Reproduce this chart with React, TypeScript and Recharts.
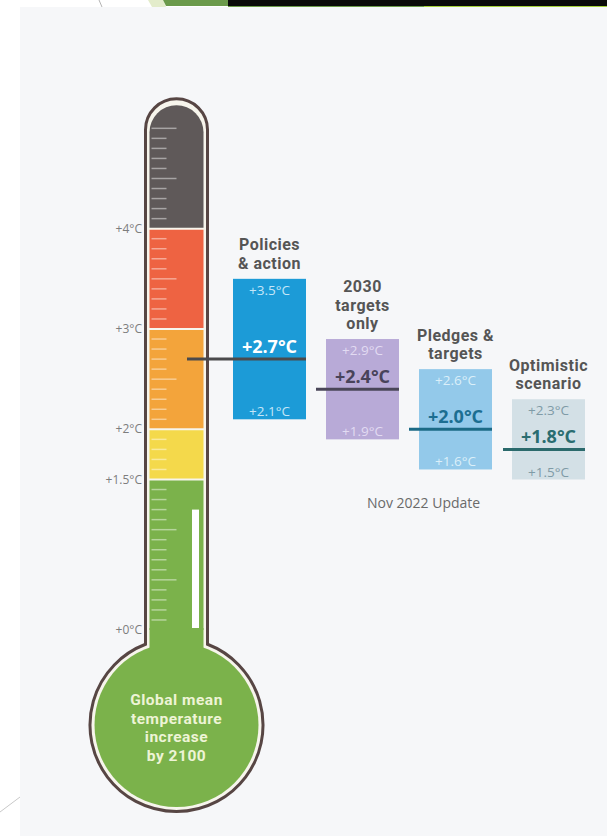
import React from "react";
import {
  ComposedChart,
  Bar,
  Scatter,
  XAxis,
  YAxis,
  ReferenceArea,
} from "recharts";

// scenario columns (first slot holds the thermometer)
const categories = [
  "thermometer",
  "Policies & action",
  "2030 targets only",
  "Pledges & targets",
  "Optimistic scenario",
];
const titleLines = [
  [],
  ["Policies", "& action"],
  ["2030", "targets", "only"],
  ["Pledges &", "targets"],
  ["Optimistic", "scenario"],
];
const lowValues = [null, 2.1, 1.9, 1.6, 1.5];
const highValues = [null, 3.5, 2.9, 2.6, 2.3];
const midValues = [null, 2.7, 2.4, 2.0, 1.8];

// thermometer colour bands (°C)
const bandEdges = [0, 1.5, 2, 3, 4, 5.23];
const bandColors = ["#7bb24b", "#f4d94b", "#f3a43b", "#ee6342", "#5f5959"];
const yTicks = [0, 1.5, 2, 3, 4];

const bulbText = ["Global mean", "temperature", "increase", "by 2100"];
const caption = "Nov 2022 Update";

const boxStyles = [
  null,
  { fill: "#1c9bd7", edge: "#c4e6f8", mid: "#ffffff", line: "#4b4a4c", reach: 46 },
  { fill: "#b8aad7", edge: "#e2dbf2", mid: "#48435a", line: "#4a4658", reach: 10 },
  { fill: "#93c9ea", edge: "#dbeff9", mid: "#1c6e91", line: "#1b6a86", reach: 10 },
  { fill: "#d3e0e6", edge: "#7f9ba6", mid: "#2a6d70", line: "#2b6a6c", reach: 9 },
];

const data = categories.map((name, i) => ({
  name,
  range: lowValues[i] == null ? null : [lowValues[i], highValues[i]],
  low: lowValues[i],
  high: highValues[i],
  mid: midValues[i],
}));

const FONT = "'Open Sans', 'DejaVu Sans', sans-serif";
const TIGHT = "Roboto, 'Open Sans', sans-serif"; // compact line box for stacked titles
const fmt = (v: number) => `+${v.toFixed(1)}°C`;

const TUBE_HALF = 27; // inner fill half width
const OUTLINE_HALF = 31;
const BULB_R = 86.5;
const BULB_DROP = 95; // bulb centre below the 0°C line

const ThermoOutline = (props: any) => {
  const { x, y, width, height } = props;
  const cx = x + width / 2;
  const zero = y + height;
  const by = zero + BULB_DROP;
  const top = y - 6.5;
  const neck = by - Math.sqrt(BULB_R * BULB_R - OUTLINE_HALF * OUTLINE_HALF);
  const d = `M ${cx - OUTLINE_HALF} ${neck} L ${cx - OUTLINE_HALF} ${top + OUTLINE_HALF}
    A ${OUTLINE_HALF} ${OUTLINE_HALF} 0 0 1 ${cx + OUTLINE_HALF} ${top + OUTLINE_HALF}
    L ${cx + OUTLINE_HALF} ${neck}
    A ${BULB_R} ${BULB_R} 0 1 1 ${cx - OUTLINE_HALF} ${neck} Z`;
  return (
    <g>
      <path d={d} fill="#f7f5ec" stroke="#574644" strokeWidth={3} />
      <circle cx={cx} cy={by} r={BULB_R - 4.5} fill={bandColors[0]} />
      <rect x={cx - TUBE_HALF} y={zero - 2} width={TUBE_HALF * 2} height={22} fill={bandColors[0]} />
      {bulbText.map((t, i) => (
        <text
          key={t}
          x={cx}
          y={by - 20 + i * 18.5}
          textAnchor="middle"
          fontFamily={TIGHT}
          fontSize={15.5}
          fontWeight={700}
          letterSpacing={0.5}
          fill="#eef4d6"
        >
          {t}
        </text>
      ))}
    </g>
  );
};

const makeSegment = (i: number) => (props: any) => {
  const { x, y, width, height } = props;
  const cx = x + width / 2;
  const lo = bandEdges[i];
  const hi = bandEdges[i + 1];
  const pxPer = height / (hi - lo);
  const left = cx - TUBE_HALF;
  const right = cx + TUBE_HALF;
  const top = y + (i === bandEdges.length - 2 ? 0 : 1);
  const bottom = y + height - (i === 0 ? 0 : 1);
  const d =
    i === bandEdges.length - 2
      ? `M ${left} ${bottom} L ${left} ${top + TUBE_HALF} A ${TUBE_HALF} ${TUBE_HALF} 0 0 1 ${right} ${top + TUBE_HALF} L ${right} ${bottom} Z`
      : `M ${left} ${bottom} L ${left} ${top} L ${right} ${top} L ${right} ${bottom} Z`;
  const grads: number[] = [];
  for (let k = Math.round(lo * 10) + 1; k < Math.round(hi * 10); k++) {
    if (k <= 50) grads.push(k);
  }
  return (
    <g>
      <path d={d} fill={bandColors[i]} />
      {grads.map((k) => {
        const gy = y + height - (k / 10 - lo) * pxPer;
        return (
          <line
            key={k}
            x1={left + 2}
            x2={left + (k % 5 === 0 ? 27 : 17)}
            y1={gy}
            y2={gy}
            stroke="#ffffff"
            strokeOpacity={0.45}
            strokeWidth={1.5}
          />
        );
      })}
      {i === 0 && (
        <rect
          x={cx + 15.5}
          y={y + height - 1.2 * pxPer}
          width={7}
          height={1.2 * pxPer - 2}
          fill="#ffffff"
        />
      )}
    </g>
  );
};

const BoxShape = (props: any) => {
  const { x, y, width, height, payload } = props;
  const idx = categories.indexOf(payload?.name);
  if (idx < 1 || !height) return null;
  const s = boxStyles[idx]!;
  const cx = x + width / 2;
  const lines = titleLines[idx];
  return (
    <g fontFamily={FONT}>
      {lines.map((t, i) => (
        <text
          key={t}
          x={cx}
          y={y - 10 - (lines.length - 1 - i) * 18.5}
          textAnchor="middle"
          fontFamily={TIGHT}
          fontSize={16}
          fontWeight={700}
          letterSpacing={0.5}
          fill="#555555"
        >
          {t}
        </text>
      ))}
      <rect x={x} y={y} width={width} height={height} fill={s.fill} />
      <text x={cx} y={y + 16} textAnchor="middle" fontSize={13.5} fill={s.edge}>
        {fmt(payload.high)}
      </text>
      <text x={cx} y={y + height - 3} textAnchor="middle" fontSize={13.5} fill={s.edge}>
        {fmt(payload.low)}
      </text>
    </g>
  );
};

const MidShape = (props: any) => {
  const { cx, cy, payload } = props;
  const idx = categories.indexOf(payload?.name);
  if (idx < 1 || cy == null || isNaN(cy)) return null;
  const s = boxStyles[idx]!;
  const half = 36.5;
  return (
    <g fontFamily={FONT}>
      <line x1={cx - half - s.reach} x2={cx + half} y1={cy} y2={cy} stroke={s.line} strokeWidth={3} />
      <text x={cx} y={cy - 6} textAnchor="middle" fontSize={18} fontWeight={700} fill={s.mid}>
        {fmt(payload.mid)}
      </text>
    </g>
  );
};

const YTick = ({ y, payload }: any) => (
  <text x={142} y={y} dy={4} textAnchor="end" fontFamily={FONT} fontSize={12} fill="#7d7d7d">
    {`+${payload.value}°C`}
  </text>
);

export default function App() {
  return (
    <div
      style={{
        position: "absolute",
        left: 0,
        top: 0,
        width: 607,
        height: 836,
        background: "#ffffff",
        overflow: "hidden",
      }}
    >
      <div style={{ position: "absolute", left: 20, top: 7, right: 0, bottom: 0, background: "#f6f7f9" }} />
      <svg width={607} height={836} style={{ position: "absolute", left: 0, top: 0 }}>
        <line x1={99} y1={0} x2={102} y2={7} stroke="#b4b4b4" strokeWidth={1} />
        <polygon points="148,0 163,0 166,7 152,7" fill="#e3eccb" />
        <polygon points="163,0 228,0 228,6 166,6" fill="#6b9a4b" />
        <rect x={228} y={0} width={379} height={6} fill="#0a0a0a" />
        <rect x={228} y={6} width={196} height={1} fill="#6b9a4b" />
        <rect x={424} y={6} width={183} height={1} fill="#a4d13a" />
        <line x1={0} y1={812} x2={20} y2={797} stroke="#c8c8c8" strokeWidth={1} />
        <text x={367} y={508} fontFamily={FONT} fontSize={14} fill="#6a6a6a">
          {caption}
        </text>
      </svg>
      <div style={{ position: "absolute", left: 0, top: 0 }}>
        <ComposedChart
          width={607}
          height={836}
          data={data}
          margin={{ top: 28, right: 12, bottom: 206, left: 0 }}
        >
          <XAxis dataKey="name" type="category" hide />
          <YAxis
            domain={[0, 6]}
            ticks={yTicks}
            width={130}
            axisLine={false}
            tickLine={false}
            tick={<YTick />}
            interval={0}
          />
          <ReferenceArea
            x1="thermometer"
            x2="thermometer"
            y1={bandEdges[0]}
            y2={bandEdges[bandEdges.length - 1]}
            ifOverflow="visible"
            shape={<ThermoOutline />}
          />
          {bandColors.map((c, i) => (
            <ReferenceArea
              key={c}
              x1="thermometer"
              x2="thermometer"
              y1={bandEdges[i]}
              y2={bandEdges[i + 1]}
              ifOverflow="visible"
              shape={makeSegment(i)}
            />
          ))}
          <Bar dataKey="range" barSize={73} isAnimationActive={false} shape={<BoxShape />} />
          <Scatter dataKey="mid" isAnimationActive={false} shape={<MidShape />} />
        </ComposedChart>
      </div>
    </div>
  );
}
